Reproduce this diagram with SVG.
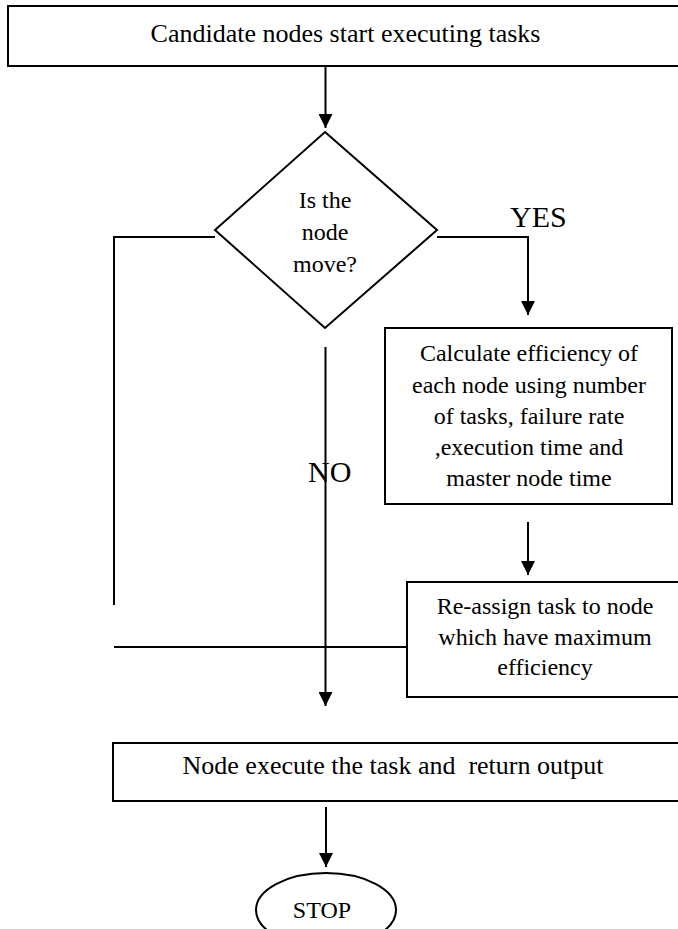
<svg xmlns="http://www.w3.org/2000/svg" width="678" height="929" viewBox="0 0 678 929">
<style>
.box{fill:#fff;stroke:#000;stroke-width:2}
.ln{fill:none;stroke:#000;stroke-width:2}
.t{font-family:"Liberation Serif","Times New Roman",serif;font-size:24px;fill:#000;text-anchor:middle}
.big{font-size:26px}
.lbl{font-size:30px;text-anchor:start}
</style>
<defs>
<marker id="ah" markerUnits="userSpaceOnUse" markerWidth="14" markerHeight="14" refX="14" refY="7" orient="auto">
<path d="M0,0 L14,7 L0,14 Z" fill="#000"/>
</marker>
</defs>
<rect width="678" height="929" fill="#fff"/>
<g id="connectors">
<line class="ln" x1="325.5" y1="66" x2="325.5" y2="128" marker-end="url(#ah)"/>
<polyline class="ln" points="215,237 114,237 114,605"/>
<polyline class="ln" points="437,237 528,237 528,315" marker-end="url(#ah)"/>
<line class="ln" x1="325.5" y1="347" x2="325.5" y2="706" marker-end="url(#ah)"/>
<line class="ln" x1="528" y1="522" x2="528" y2="575" marker-end="url(#ah)"/>
<line class="ln" x1="407" y1="647" x2="114" y2="647"/>
<line class="ln" x1="326" y1="807" x2="326" y2="867" marker-end="url(#ah)"/>
<text class="t lbl" x="510" y="227">YES</text>
<text class="t lbl" x="308" y="482">NO</text>
</g>
<g id="start">
<rect class="box" x="8" y="6" width="690" height="60"/>
<text class="t big" x="345.5" y="42">Candidate nodes start executing tasks</text>
</g>
<g id="decision">
<polygon class="box" points="325,132 437,230 325,328 215,230"/>
<text class="t" x="325" y="208">Is the</text>
<text class="t" x="325" y="240">node</text>
<text class="t" x="325" y="272">move?</text>
</g>
<g id="calculate">
<rect class="box" x="385" y="328" width="287" height="176"/>
<text class="t" x="529" y="361">Calculate efficiency of</text>
<text class="t" x="529" y="392.5">each node using number</text>
<text class="t" x="529" y="423.5">of tasks, failure rate</text>
<text class="t" x="529" y="455">,execution time and</text>
<text class="t" x="529" y="486">master node time</text>
</g>
<g id="reassign">
<rect class="box" x="407" y="582" width="290" height="115"/>
<text class="t" x="545" y="614">Re-assign task to node</text>
<text class="t" x="545" y="645">which have maximum</text>
<text class="t" x="545" y="675">efficiency</text>
</g>
<g id="execute">
<rect class="box" x="113" y="743" width="590" height="58"/>
<text class="t big" x="393" y="774" style="white-space:pre">Node execute the task and  return output</text>
</g>
<g id="stop">
<ellipse class="box" cx="326" cy="910" rx="70" ry="37"/>
<text class="t" x="322" y="918">STOP</text>
</g>
</svg>
